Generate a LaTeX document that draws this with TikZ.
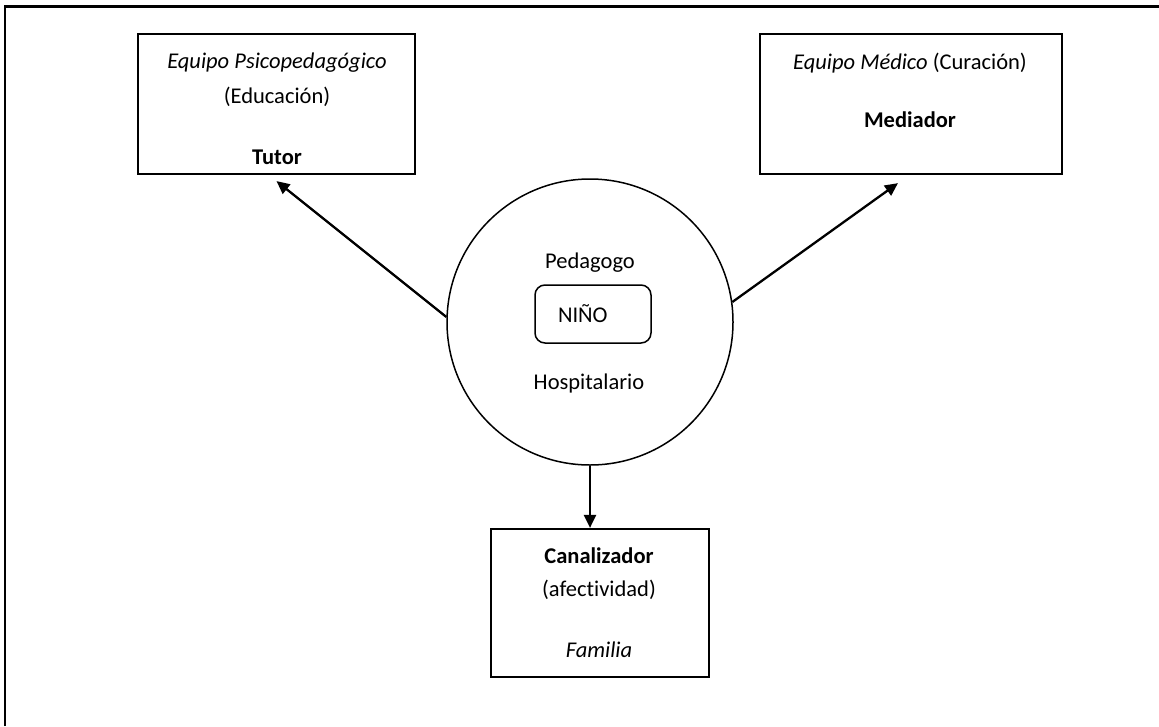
\documentclass[tikz,border=0pt]{standalone}
\usepackage{fontspec}
\setmainfont{Carlito}[Ligatures=NoCommon]
\usetikzlibrary{arrows.meta,positioning,calc}
\tikzset{
  >={Triangle[length=13pt,width=12pt]},
  txt/.style={font=\fontsize{22.5}{26}\selectfont, inner sep=0pt},
  rolebox/.style={draw, line width=2.2pt, minimum width=#1, minimum height=140pt, inner sep=0pt},
  flow/.style={->, line width=2.3pt},
  ninobox/.style={draw, rounded corners=10pt, line width=1.5pt, minimum height=58pt,
    text width=70pt, inner xsep=23pt, align=left, font=\fontsize{22.5}{26}\selectfont},
}
\begin{document}
\begin{tikzpicture}[x=1pt, y=-1pt]
\useasboundingbox (0,0) rectangle (1159,726);

% frame (only top and left edges show)
\draw[line width=2.4pt] (5,726) -- (5,6.5) -- (1159,6.5);

% ---------- left: tutor ----------
\node[rolebox=277pt] (tutorbox) at (276.5,104) {};
\node[txt] (psico) at (277,63) {\itshape Equipo Psicopedagógico};
\node[txt] (educ)  at (277,97) {(Educación)};
\node[txt] (tutor) at (277,157) {\bfseries Tutor};

% ---------- right: mediator ----------
\node[rolebox=302pt] (medbox) at (911,104) {};
\node[txt] (medico) at (910,63) {\textit{Equipo Médico} (Curación)};
\node[txt] (mediador) at (910,120) {\bfseries Mediador};

% ---------- centre ----------
\node[circle, draw, line width=1.5pt, minimum size=286pt, inner sep=0pt] (circ) at (590,322) {};
\node[txt] (pedagogo) at (590,263) {Pedagogo};
\node[ninobox] (nino) at (593,314) {NIÑO};
\node[txt] (hosp) at (589,383) {Hospitalario};

% ---------- bottom: family ----------
\node[rolebox=218pt, minimum height=148pt] (canalbox) at (600,603) {};
\node[txt] (canal) at (599,556) {\bfseries Canalizador};
\node[txt] (afect) at (599,590) {(afectividad)};
\node[txt] (familia) at (599,650) {\itshape Familia};

% ---------- arrows ----------
\draw[flow] (circ.178) -- ($(tutorbox.south)+(0,6)$);
\draw[flow] (circ.8) -- ($(medbox.south)+(-13,8)$);
\draw[flow] (circ.south) -- (circ.south |- canalbox.north);

\end{tikzpicture}
\end{document}
